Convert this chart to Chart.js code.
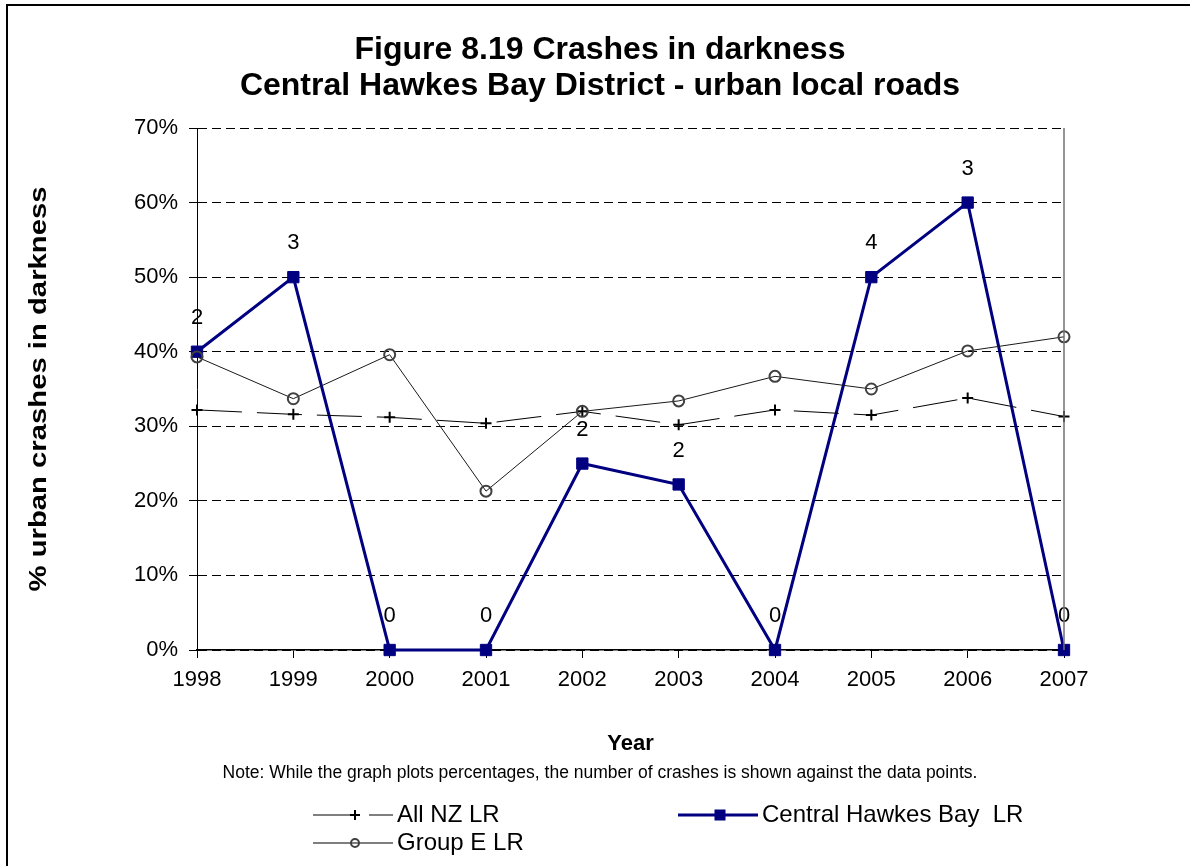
<!DOCTYPE html>
<html>
<head>
<meta charset="utf-8">
<title>Figure 8.19 Crashes in darkness</title>
<script src="https://cdn.jsdelivr.net/npm/chart.js@4.4.0/dist/chart.umd.min.js"></script>
<style>
  html, body { margin: 0; padding: 0; background: #fff; overflow: hidden; }
  #wrap { position: relative; width: 1190px; height: 866px; }
  #chart { position: absolute; left: 0; top: 0; }
  #frame { position: absolute; left: 6px; top: 4px; width: 1200px; height: 900px;
           border: 2px solid #000; box-sizing: border-box; pointer-events: none; }
</style>
</head>
<body>
<div id="wrap">
  <canvas id="chart" width="1190" height="866"></canvas>
  <div id="frame"></div>
</div>
<script>
// chart data
const years = ["1998", "1999", "2000", "2001", "2002", "2003", "2004", "2005", "2006", "2007"];
const allNZ = [32.2, 31.6, 31.2, 30.4, 32.0, 30.2, 32.2, 31.5, 33.8, 31.3];
const centralHB = [40, 50, 0, 0, 25, 22.2, 0, 50, 60, 0];
const groupE = [39.3, 33.7, 39.6, 21.3, 32.0, 33.4, 36.7, 35.0, 40.1, 42.0];
// number of crashes shown against the Central Hawkes Bay points
const crashCounts = [2, 3, 0, 0, 2, 2, 0, 4, 3, 0];
const yMin = 0, yMax = 70, yStep = 10;

const titleLines = ["Figure 8.19 Crashes in darkness", "Central Hawkes Bay District - urban local roads"];

const FONT = "'Liberation Sans', Arial, sans-serif";
const NAVY = "#000080";

// little helpers for the hand drawn legend symbols
function drawMarker(ctx, style, x, y) {
  ctx.save();
  if (style === "cross") {
    ctx.strokeStyle = "#000"; ctx.lineWidth = 2;
    ctx.beginPath();
    ctx.moveTo(x - 5, y); ctx.lineTo(x + 5, y);
    ctx.moveTo(x, y - 5); ctx.lineTo(x, y + 5);
    ctx.stroke();
  } else if (style === "rect") {
    ctx.fillStyle = NAVY;
    ctx.fillRect(x - 5.5, y - 5.5, 11, 11);
  } else {
    ctx.strokeStyle = "#404040"; ctx.lineWidth = 2;
    ctx.beginPath(); ctx.arc(x, y, 4, 0, Math.PI * 2); ctx.stroke();
  }
  ctx.restore();
}

const extras = {
  id: "extras",
  afterDatasetsDraw(chart) {
    const ctx = chart.ctx;
    // crash counts above the Central Hawkes Bay points
    const meta = chart.getDatasetMeta(1);
    ctx.save();
    ctx.font = "22px " + FONT;
    ctx.fillStyle = "#000";
    ctx.textAlign = "center";
    ctx.textBaseline = "middle";
    meta.data.forEach((pt, i) => {
      ctx.fillText(String(crashCounts[i]), pt.x, pt.y - 34);
    });
    ctx.restore();
  },
  afterDraw(chart) {
    const ctx = chart.ctx;
    const a = chart.chartArea;

    // chart title (drawn here so it can sit centred on the whole figure)
    ctx.save();
    ctx.font = "bold 32px " + FONT;
    ctx.fillStyle = "#000";
    ctx.textAlign = "center";
    ctx.textBaseline = "middle";
    titleLines.forEach((t, i) => ctx.fillText(t, 600, 50 + i * 36));
    ctx.restore();

    // right edge of the plot area
    ctx.save();
    ctx.strokeStyle = "#707070";
    ctx.lineWidth = 1.5;
    ctx.beginPath();
    ctx.moveTo(a.right, a.top);
    ctx.lineTo(a.right, a.bottom);
    ctx.stroke();
    ctx.restore();

    // y axis title, drawn a bit stretched like the original
    ctx.save();
    ctx.font = "bold 23px " + FONT;
    ctx.fillStyle = "#000";
    ctx.textAlign = "center";
    ctx.textBaseline = "middle";
    const yTitle = "% urban crashes in darkness";
    const w = ctx.measureText(yTitle).width;
    ctx.translate(40, (a.top + a.bottom) / 2);
    ctx.rotate(-Math.PI / 2);
    ctx.scale(405 / w, 1);
    ctx.fillText(yTitle, 0, 0);
    ctx.restore();

    // note under the axis title
    ctx.save();
    ctx.font = "17.5px " + FONT;
    ctx.fillStyle = "#000";
    ctx.textAlign = "center";
    ctx.textBaseline = "middle";
    ctx.fillText("Note: While the graph plots percentages, the number of crashes is shown against the data points.", 600, 773);
    ctx.restore();

    // legend
    const items = [
      { text: "All NZ LR", x: 313, y: 815, color: "#000", width: 1, dash: [40, 16], marker: "cross" },
      { text: "Central Hawkes Bay  LR", x: 678, y: 815, color: NAVY, width: 3, dash: [], marker: "rect" },
      { text: "Group E LR", x: 313, y: 843, color: "#555", width: 1.5, dash: [], marker: "circle" }
    ];
    items.forEach(it => {
      ctx.save();
      ctx.strokeStyle = it.color;
      ctx.lineWidth = it.width;
      ctx.setLineDash(it.dash);
      ctx.beginPath();
      ctx.moveTo(it.x, it.y);
      ctx.lineTo(it.x + 80, it.y);
      ctx.stroke();
      ctx.restore();
      drawMarker(ctx, it.marker, it.x + 42, it.y);
      ctx.save();
      ctx.font = "24px " + FONT;
      ctx.fillStyle = "#000";
      ctx.textAlign = "left";
      ctx.textBaseline = "middle";
      ctx.fillText(it.text, it.x + 84, it.y);
      ctx.restore();
    });
  }
};

new Chart(document.getElementById("chart"), {
  type: "line",
  data: {
    labels: years,
    datasets: [
      {
        label: "All NZ LR",
        data: allNZ,
        borderColor: "#000",
        borderWidth: 1,
        borderDash: [45, 15],
        pointStyle: "cross",
        pointRadius: 5.5,
        pointBorderWidth: 2,
        pointBorderColor: "#000",
        tension: 0,
        clip: false,
        order: 1
      },
      {
        label: "Central Hawkes Bay  LR",
        data: centralHB,
        borderColor: NAVY,
        backgroundColor: NAVY,
        borderWidth: 3,
        pointStyle: "rect",
        pointRadius: 8,
        pointBorderWidth: 1,
        pointBorderColor: NAVY,
        pointBackgroundColor: NAVY,
        tension: 0,
        clip: false,
        order: 2
      },
      {
        label: "Group E LR",
        data: groupE,
        borderColor: "#1a1a1a",
        borderWidth: 1,
        pointStyle: "circle",
        pointRadius: 5.5,
        pointBorderWidth: 2,
        pointBorderColor: "#404040",
        pointBackgroundColor: "rgba(255,255,255,0)",
        tension: 0,
        clip: false,
        order: 0
      }
    ]
  },
  options: {
    responsive: false,
    animation: false,
    layout: { padding: { left: 10, right: 126, top: 128, bottom: 109 } },
    plugins: {
      legend: { display: false },
      tooltip: { enabled: false },
      title: { display: false }
    },
    scales: {
      x: {
        type: "category",
        offset: false,
        afterFit(s) { s.height = 107; },
        grid: { drawOnChartArea: false, drawTicks: true, tickLength: 8, color: "#000", tickWidth: 1 },
        border: { display: true, color: "#000", width: 1.5 },
        ticks: { color: "#000", font: { family: FONT, size: 22 }, padding: 9, maxRotation: 0, autoSkip: false },
        title: { display: true, text: "Year", color: "#000", font: { family: FONT, size: 22, weight: "bold" }, padding: 0 }
      },
      y: {
        min: yMin,
        max: yMax,
        afterFit(s) { s.width = 187; },
        ticks: {
          stepSize: yStep,
          color: "#000",
          font: { family: FONT, size: 22 },
          padding: 11,
          callback: v => v + "%"
        },
        grid: { color: "#000", lineWidth: 1, tickLength: 8, tickColor: "#000" },
        border: { display: true, color: "#000", width: 1, dash: [9, 5] }
      }
    }
  },
  plugins: [extras]
});
</script>
</body>
</html>
